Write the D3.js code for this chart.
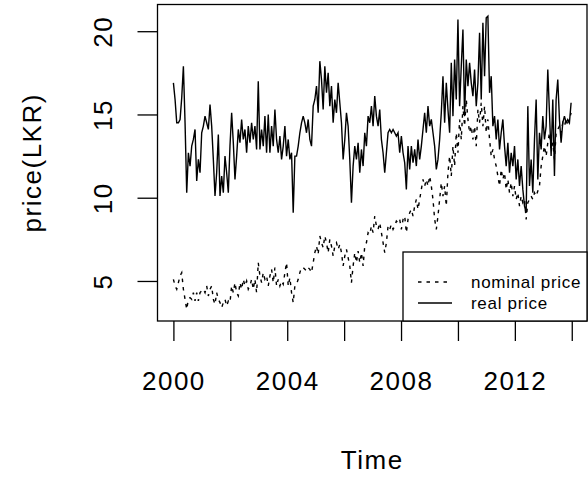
<!DOCTYPE html>
<html>
<body>
    <style>
        body, html {
            margin: 0;
            padding: 0;
            background: #fff;
        }
        svg text {
            font-family: "Liberation Sans", Arial, sans-serif;
            fill: #000;
        }
    </style>

    <svg width="588" height="479"></svg>

    <script src="https://cdn.jsdelivr.net/npm/d3@7"></script>

    <script>
        // series sampled every 1/17.1 year from 2000
        var startYear = 2000;
        var frequency = 17.1;

        var realPrice = [
            16.9, 15.9, 14.5, 14.5, 14.7, 16.0, 17.9, 14.5, 10.3, 12.7,
            11.9, 13.1, 13.5, 14.1, 11.0, 12.3, 11.5, 13.9, 14.3, 14.9,
            14.5, 14.1, 15.6, 14.3, 12.3, 10.1, 11.5, 13.8, 10.1, 11.3,
            10.3, 12.5, 11.5, 10.3, 13.1, 15.1, 13.3, 11.1, 12.5, 14.1,
            13.3, 14.7, 13.5, 14.1, 12.7, 14.3, 13.3, 14.5, 13.5, 14.3,
            12.9, 17.0, 12.9, 14.1, 13.1, 14.9, 12.7, 15.0, 12.7, 14.3,
            13.1, 15.3, 13.5, 12.7, 13.7, 12.3, 13.1, 14.3, 12.5, 13.5,
            12.3, 12.7, 9.1, 12.5, 12.5, 13.1, 13.9, 14.5, 14.9, 14.5,
            13.9, 14.7, 13.5, 13.1, 15.5, 15.9, 16.7, 15.1, 18.2, 17.1,
            15.3, 17.9, 16.3, 17.5, 15.5, 16.7, 14.5, 15.9, 15.1, 16.9,
            15.7, 14.5, 12.3, 13.5, 15.1, 14.3, 12.3, 9.7, 11.9, 13.1,
            12.3, 13.3, 11.5, 12.9, 11.9, 13.9, 13.1, 14.9, 14.5, 15.5,
            14.3, 16.1, 14.9, 14.3, 15.3, 13.5, 12.7, 11.5, 12.7, 13.9,
            14.1, 13.9, 14.1, 13.9, 13.7, 13.9, 12.7, 13.7, 12.7, 12.1,
            10.5, 13.1, 11.7, 13.1, 12.1, 12.9, 11.9, 13.5, 12.3, 13.1,
            14.1, 15.1, 13.9, 15.5, 14.3, 14.7, 13.9, 13.1, 11.7, 12.3,
            13.5, 15.1, 17.3, 14.5, 16.9, 15.3, 13.9, 18.1, 14.9, 18.3,
            15.9, 20.7, 15.5, 17.9, 20.1, 14.9, 18.3, 16.7, 18.1, 16.9,
            16.1, 17.7, 15.5, 16.9, 19.9, 15.9, 20.5, 17.3, 20.8, 20.9,
            16.3, 17.3, 14.3, 14.9, 13.5, 14.7, 12.9, 13.9, 14.7, 13.1,
            11.9, 13.3, 11.5, 12.7, 11.9, 13.1, 11.1, 12.3, 10.7, 11.9,
            10.5, 9.5, 9.1, 15.5, 10.7, 12.3, 10.3, 13.5, 15.9, 11.1,
            13.9, 12.9, 14.9, 13.5, 14.3, 17.7, 15.1, 12.5, 15.9, 11.3,
            15.9, 17.1, 14.7, 13.3, 14.5, 14.9, 14.5, 14.7, 14.5, 15.7
        ];

        var nominalPrice = [
            5.1, 4.7, 4.5, 4.9, 5.3, 5.5, 4.5, 3.9, 3.3, 3.9,
            4.0, 3.9, 4.3, 3.8, 4.3, 3.8, 4.3, 4.4, 4.5, 4.3,
            4.7, 4.1, 4.5, 4.7, 3.9, 3.6, 4.3, 3.9, 3.7, 3.4,
            3.7, 3.9, 3.5, 3.8, 3.7, 4.7, 4.3, 4.9, 4.3, 4.1,
            4.9, 4.5, 5.1, 4.7, 5.0, 4.5, 4.7, 5.1, 4.5, 5.1,
            4.3, 6.1, 5.3, 4.9, 5.5, 5.1, 5.3, 4.7, 5.3, 5.7,
            4.9, 5.8, 4.7, 5.1, 4.7, 5.0, 4.8, 5.5, 6.1, 4.7,
            5.2, 4.3, 3.7, 4.7, 4.8, 5.1, 5.5, 5.8, 5.8, 5.7,
            5.6, 5.8, 5.7, 5.5, 6.1, 6.7, 7.1, 6.6, 7.7, 7.3,
            7.0, 7.7, 7.3, 6.7, 7.5, 7.1, 6.5, 7.1, 7.3, 6.9,
            7.2, 6.7, 5.9, 6.5, 6.9, 6.4, 5.9, 4.9, 5.9, 6.7,
            6.1, 6.8, 6.1, 6.7, 5.9, 7.1, 7.3, 7.9, 7.8, 8.3,
            7.9, 8.9, 8.3, 8.1, 8.5, 7.9, 7.3, 6.7, 7.3, 8.3,
            8.1, 8.4, 8.1, 8.3, 8.6, 8.5, 8.7, 8.1, 8.7, 8.9,
            7.9, 8.7, 9.1, 9.3, 8.9, 9.5, 9.9, 9.3, 9.9, 10.5,
            11.1, 10.7, 11.1, 10.7, 11.3, 10.7, 9.9, 8.7, 8.1, 8.9,
            9.9, 10.9, 10.1, 10.7, 9.5, 11.5, 12.5, 11.3, 13.1, 11.9,
            13.9, 12.7, 14.7, 13.5, 15.5, 14.3, 15.9, 14.7, 13.9, 14.3,
            13.5, 14.3, 13.1, 15.3, 14.5, 15.7, 14.3, 15.5, 13.9, 14.7,
            13.5, 12.5, 12.9, 12.3, 11.9, 11.3, 10.7, 11.7, 11.1, 11.5,
            10.5, 11.1, 10.3, 10.9, 10.1, 10.7, 9.9, 10.3, 9.5, 10.1,
            9.7, 9.9, 8.7, 9.7, 9.9, 10.1, 9.9, 10.3, 10.1, 10.4,
            10.7, 11.9, 12.5, 13.1, 12.5, 13.3, 13.9, 12.9, 13.3, 12.3,
            13.9, 14.1, 14.3, 13.9, 14.5, 14.3, 14.7, 14.5, 14.7, 15.1
        ];

        var xTickYears = [2000, 2002, 2004, 2006, 2008, 2010, 2012, 2014];
        var yTickValues = [5, 10, 15, 20];
        var legendLabels = ["nominal price", "real price"];

        var svg = d3.select("svg");

        var plotLeft = 157.5, plotRight = 587, plotTop = 4.5, plotBottom = 321;
        var tickLen = 20;
        var dotted = "3.5,5";

        var times = realPrice.map(function(d, i) { return startYear + i / frequency; });

        // R style axis ranges: data extent plus 4% each side
        function padded(ext) {
            var r = ext[1] - ext[0];
            return [ext[0] - 0.04 * r, ext[1] + 0.04 * r];
        }

        var x = d3.scaleLinear()
            .domain(padded(d3.extent(times)))
            .range([plotLeft, plotRight]);

        var y = d3.scaleLinear()
            .domain(padded(d3.extent(realPrice.concat(nominalPrice))))
            .range([plotBottom, plotTop]);

        var line = d3.line()
            .x(function(d, i) { return x(times[i]); })
            .y(function(d) { return y(d); });

        // NOMINAL
        svg.append("path")
            .datum(nominalPrice)
            .attr("d", line)
            .attr("fill", "none")
            .attr("stroke", "#000")
            .attr("stroke-width", 1.4)
            .attr("stroke-dasharray", dotted);

        // REAL
        svg.append("path")
            .datum(realPrice)
            .attr("d", line)
            .attr("fill", "none")
            .attr("stroke", "#000")
            .attr("stroke-width", 1.4);

        // X AXIS
        var xAxis = svg.append("g")
            .attr("transform", "translate(0," + plotBottom + ")")
            .call(d3.axisBottom(x)
                .tickValues(xTickYears)
                .tickSize(tickLen)
                .tickPadding(31)
                .tickFormat(function(d) { return d % 4 === 0 ? d : ""; }));
        xAxis.select(".domain").remove();
        xAxis.selectAll("line").attr("stroke-width", 1.3);
        xAxis.selectAll("text")
            .attr("font-size", 26)
            .attr("letter-spacing", 1.5)
            .attr("font-family", null);

        // Y AXIS
        var yAxis = svg.append("g")
            .attr("transform", "translate(" + plotLeft + ",0)")
            .call(d3.axisLeft(y)
                .tickValues(yTickValues)
                .tickSize(tickLen));
        yAxis.select(".domain").remove();
        yAxis.selectAll("line").attr("stroke-width", 1.3);
        yAxis.selectAll("text")
            .attr("x", null)
            .attr("dy", null)
            .attr("text-anchor", "middle")
            .attr("transform", "translate(-46,0) rotate(-90)")
            .attr("font-size", 26)
            .attr("letter-spacing", 1.5)
            .attr("font-family", null);

        // BOX
        svg.append("rect")
            .attr("x", plotLeft)
            .attr("y", plotTop)
            .attr("width", plotRight - plotLeft)
            .attr("height", plotBottom - plotTop)
            .attr("fill", "none")
            .attr("stroke", "#000")
            .attr("stroke-width", 1.3);

        // TITLES
        svg.append("text")
            .attr("x", (plotLeft + plotRight) / 2)
            .attr("y", 469)
            .attr("text-anchor", "middle")
            .attr("font-size", 26)
            .attr("letter-spacing", 1.5)
            .text("Time");

        svg.append("text")
            .attr("transform", "translate(41," + (plotTop + plotBottom) / 2 + ") rotate(-90)")
            .attr("text-anchor", "middle")
            .attr("font-size", 26)
            .attr("letter-spacing", 1.5)
            .text("price(LKR)");

        // LEGEND
        var legend = svg.append("g");
        legend.append("rect")
            .attr("x", 403)
            .attr("y", 252)
            .attr("width", plotRight - 403)
            .attr("height", plotBottom - 252)
            .attr("fill", "#fff")
            .attr("stroke", "#000")
            .attr("stroke-width", 1.3);

        var rows = legend.selectAll(".row")
            .data(legendLabels)
            .enter().append("g")
            .attr("transform", function(d, i) { return "translate(0," + (282 + i * 21) + ")"; });

        rows.append("line")
            .attr("x1", 418)
            .attr("x2", 452)
            .attr("stroke", "#000")
            .attr("stroke-width", 1.3)
            .attr("stroke-dasharray", function(d, i) { return i === 0 ? dotted : null; });

        rows.append("text")
            .attr("x", 471)
            .attr("dy", "0.35em")
            .attr("font-size", 17)
            .attr("letter-spacing", 0.7)
            .text(function(d) { return d; });
    </script>
</body>
</html>
